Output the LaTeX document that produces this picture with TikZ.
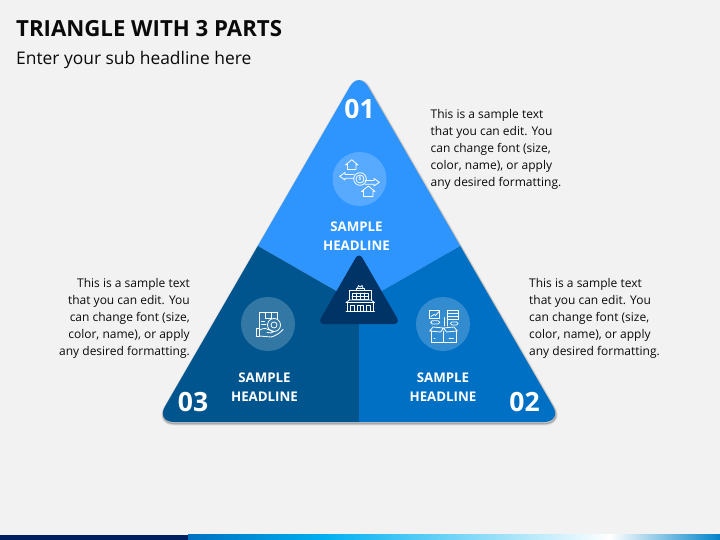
\documentclass[tikz,border=0pt]{standalone}
\usepackage{fontspec}
\setmainfont{Open Sans}
\usetikzlibrary{calc}
\definecolor{bg}{HTML}{F2F2F2}
\definecolor{top}{HTML}{2E95FF}
\definecolor{lft}{HTML}{00558F}
\definecolor{rgt}{HTML}{0070C4}
\definecolor{inner}{HTML}{003466}
\definecolor{ink}{HTML}{0A0A0A}
\definecolor{barnavy}{HTML}{002060}
\definecolor{barblue}{HTML}{0070C0}
\definecolor{barcyan}{HTML}{00B0F0}
\definecolor{barend}{HTML}{0082C8}
\tikzset{
  body/.style={font=\fontsize{12}{17}\selectfont,text=ink,inner sep=0pt,align=left},
  bodyr/.style={font=\fontsize{12}{17}\selectfont,text=ink,inner sep=0pt,align=right},
  head/.style={font=\fontsize{13.3}{19}\selectfont\bfseries,text=white,inner sep=0pt,align=center},
  num/.style={font=\fontsize{26.5}{26.5}\selectfont\bfseries,text=white,inner sep=0pt},
  badge/.style={circle,fill=white,fill opacity=.2,draw=none,minimum size=54pt,inner sep=0pt},
  ico/.style={draw=white,line width=.8pt,line join=round,line cap=round}
}
\begin{document}
\begin{tikzpicture}[x=1pt,y=-1pt]
\useasboundingbox (0,0) rectangle (720,540);
\fill[bg] (0,0) rectangle (720,540);
% bottom bar
\fill[left color=barblue,right color=barcyan] (188,534.5) rectangle (325,540);
\fill[left color=barcyan,right color=white] (325,534.5) rectangle (610,540);
\fill[left color=white,right color=barend] (610,534.5) rectangle (720,540);
\fill[barnavy] (0,534.5) rectangle (188,540);
% shadow
\foreach \o/\w in {.07/4,.10/2.6,.16/1.2}{
 \draw[black,opacity=\o,line width=\w pt,line join=round,rounded corners=18pt]
   (359.5,72.5) -- (562.5,423.5) -- (156.5,423.5) -- cycle;
}
% parts clipped to rounded triangle
\begin{scope}
\clip[rounded corners=18pt] (359,71) -- (562,422) -- (156,422) -- cycle;
\fill[top] (359,60) -- (570,60) -- (570,246) -- (460,246) -- (359,304) -- (258,246) -- (150,246) -- (150,60) -- cycle;
\fill[lft] (258,246) -- (359,304) -- (359,430) -- (150,430) -- (150,246) -- cycle;
\fill[rgt] (460,246) -- (359,304) -- (359,430) -- (570,430) -- (570,246) -- cycle;
\end{scope}
% inner triangle
\fill[inner,rounded corners=7pt] (359,252) -- (400.5,324) -- (317.5,324) -- cycle;
% badges
\node[badge] (b1) at (359.5,179) {};
\node[badge] (b3) at (268,324) {};
\node[badge] (b2) at (443,324) {};
% icon 1: houses, coin, arrows
\draw[ico] (347.5,169.5) -- (347.5,164.5) -- (345.5,165) -- (351.7,159.7) -- (358,165) -- (356,164.5) -- (356,169.5) -- cycle;
\draw[ico] (363.5,196.5) -- (363.5,191) -- (361.5,191.5) -- (368.3,186) -- (375,191.5) -- (373,191) -- (373,196.5) -- cycle;
\draw[ico] (354,174.5) -- (345,174.5) -- (345,172.5) -- (339.7,176.3) -- (345,180) -- (345,178.2) -- (354,178.2);
\draw[ico] (365,180.5) -- (374,180.5) -- (374,178.5) -- (379.3,182.3) -- (374,186) -- (374,184.2) -- (365,184.2);
\draw[ico] (360,179) circle (6.3pt) (360,179) circle (4pt);
\node[inner sep=0pt,text=white,font=\fontsize{5}{5}\selectfont\bfseries] (coin) at (360,179) {\$};
% icon 3: hand with parcel and badge
\draw[ico] (259,327.5) -- (259,312.7) -- (277.3,312.7) -- (277.3,319);
\draw[ico] (265,312.7) -- (265,318) -- (271,318) -- (271,312.7);
\draw[ico] (261.5,321) -- (264.5,321) (261.5,324) -- (266,324);
\draw[ico] (256,328.5) -- (259.5,328.5) -- (259.5,336.5) -- (256,336.5) -- cycle;
\draw[ico] (259.5,330) .. controls (264,327.5) and (267,328.5) .. (270,330) -- (274,331.5) .. controls (272,333.5) and (270,333) .. (267,332.5);
\draw[ico] (259.5,336) -- (271,337) .. controls (276,336) and (281,332) .. (283,329.5);
\draw[ico] (274,325) circle (6.5pt) (274,325) circle (3pt);
% icon 2: chart, stack, open box
\draw[ico] (429.5,310) rectangle (439.7,318);
\draw[ico] (431,316.5) -- (434,314.5) -- (435.5,315.5) -- (438.5,312);
\draw[ico] (447.3,310.7) rectangle (458,313.5) (447.3,313.5) rectangle (458,316.5) (447.3,316.5) rectangle (458,319.3);
\draw[ico,rounded corners=1.6pt] (430.7,320.7) rectangle (439.7,324);
\draw[ico] (444,326) -- (444,317.5) (447,326) -- (447,319.5);
\draw[ico,rounded corners=1.4pt] (450.5,322) rectangle (458,325);
\draw[ico] (431,331) -- (431,342.3) -- (456,342.3) -- (456,331);
\draw[ico] (443.5,331) -- (443.5,342.3);
\draw[ico] (443.5,328) -- (433,327) -- (429.7,331) -- (440.5,332) -- cycle;
\draw[ico] (443.5,328) -- (454,327) -- (457.3,331) -- (446.5,332) -- cycle;
\draw[ico] (449,338.5) -- (453.5,338.5) (434,338.5) -- (435,338.5);
% centre icon: building
\draw[ico] (349.5,300) -- (349.5,290.5) -- (371,290.5) -- (371,300);
\draw[ico] (356.5,290.5) -- (356.5,288) -- (364,288) -- (364,290.5);
\draw[ico] (357.5,288) -- (358.5,285.5) -- (360.2,287) -- (362,285.5) -- (363,288);
\draw[ico] (352,293) rectangle (368.5,299.5);
\draw[ico] (352,296.2) -- (368.5,296.2) (356,293) -- (356,299.5) (360.2,293) -- (360.2,299.5) (364.3,293) -- (364.3,299.5);
\draw[ico] (346,302.5) -- (349.5,300) -- (371,300) -- (374.5,302.5) -- cycle;
\draw[ico] (347.5,302.5) -- (347.5,311.5) (373,302.5) -- (373,311.5) (346,311.5) -- (374.5,311.5);
\draw[ico] (350.5,305) rectangle (354.5,311.5) (366,305) rectangle (370,311.5) (357.5,305.5) rectangle (363,311.5);
\draw[ico] (360.2,305.5) -- (360.2,311.5);
% numbers
\node[num] (n1) at (359.5,109) {01};
\node[num] (n3) at (193,402) {03};
\node[num] (n2) at (524.5,402) {02};
% headlines
\node[head] (h1) at (356.5,236.5) {SAMPLE\\HEADLINE};
\node[head] (h3) at (264.5,387.5) {SAMPLE\\HEADLINE};
\node[head] (h2) at (443,387.5) {SAMPLE\\HEADLINE};
% body
\node[body,anchor=north west] (t1) at (430.5,109) {This is a sample text\\that you can edit. You\\can change font (size,\\color, name), or apply\\any desired formatting.};
\node[body,anchor=north west] (t2) at (529,278) {This is a sample text\\that you can edit. You\\can change font (size,\\color, name), or apply\\any desired formatting.};
\node[bodyr,anchor=north east] (t3) at (190,278) {This is a sample text\\that you can edit. You\\can change font (size,\\color, name), or apply\\any desired formatting.};
% title
\node[anchor=west,inner sep=0pt,font=\fontsize{22.2}{26}\selectfont\bfseries,text=ink] (title) at (16,29) {TRIANGLE WITH 3 PARTS};
\node[anchor=west,inner sep=0pt,font=\fontsize{17.4}{21}\selectfont,text=ink] (sub) at (16,60) {Enter your sub headline here};
\end{tikzpicture}
\end{document}
